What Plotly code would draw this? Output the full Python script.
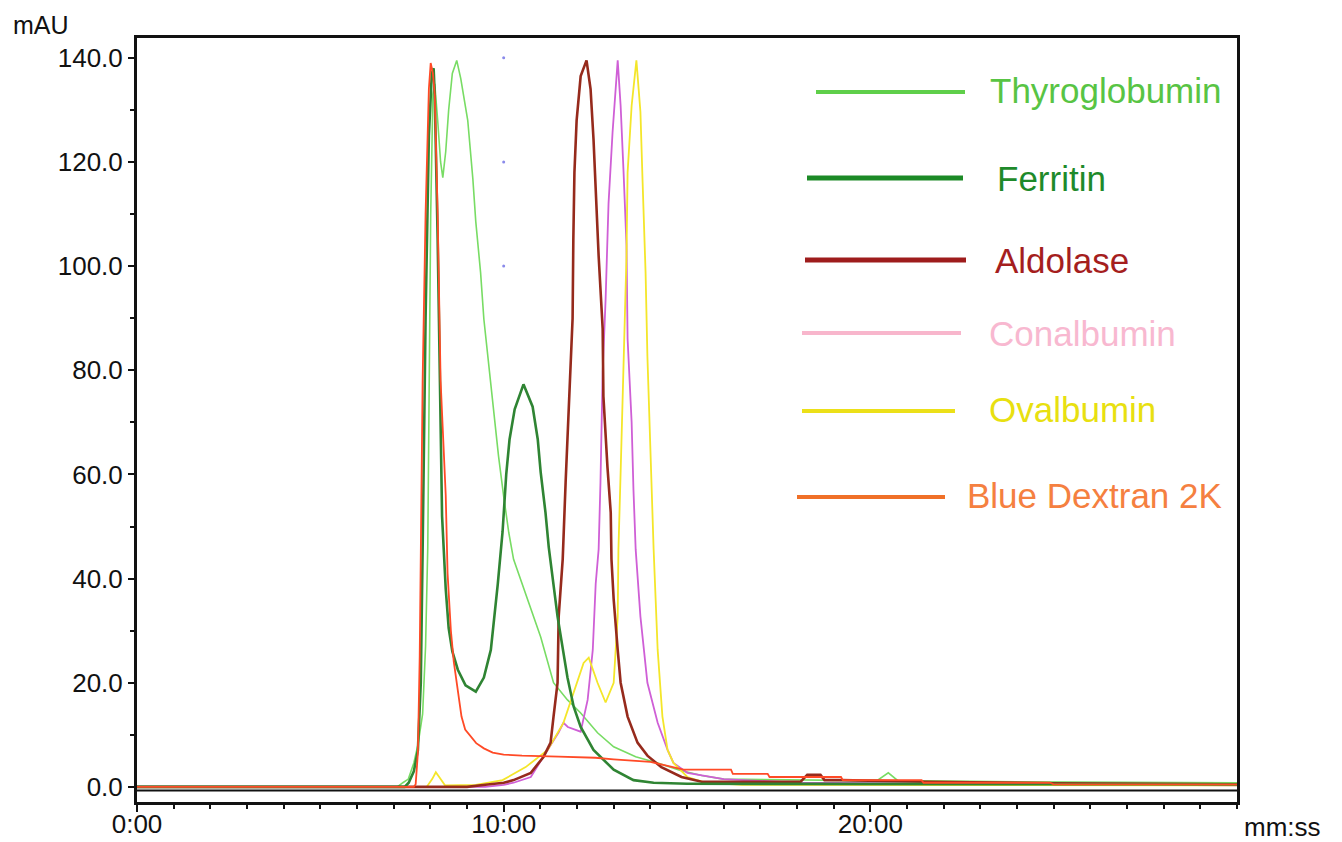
import plotly.graph_objects as go

# ---------------- data (time in minutes, absorbance in mAU) ----------------
names = ["Thyroglobumin", "Ferritin", "Aldolase", "Conalbumin", "Ovalbumin", "Blue Dextran 2K"]

thyro_t = [0, 7.1, 7.25, 7.4, 7.55, 7.66, 7.79, 7.87, 7.93, 7.96, 8.01, 8.07, 8.12, 8.2, 8.28, 8.34,
           8.42, 8.5, 8.6, 8.72, 8.83, 9.02, 9.16, 9.24, 9.37, 9.46, 9.59, 9.73, 9.86, 10.0, 10.14,
           10.27, 10.65, 11.01, 11.36, 11.74, 12.1, 12.56, 13.0, 13.6, 14.2, 14.8, 15.4, 16.0, 19.8,
           20.2, 20.49, 20.75, 24.0, 30.0]
thyro_y = [0, 0, 0.8, 1.5, 4.6, 8, 14, 27, 46, 78, 110, 133, 135, 128, 120, 117,
           122, 130, 137, 139.5, 136, 128, 116.7, 108.5, 98.8, 89.8, 80.8, 72, 63.5, 55.8, 48.8,
           43.7, 36, 28.8, 20, 16.7, 14.2, 10.4, 7.7, 5.8, 4.6, 3.2, 2.2, 1.5, 1.2,
           1.3, 2.7, 1.2, 1.0, 0.8]

ferr_t = [0, 7.3, 7.41, 7.55, 7.66, 7.74, 7.79, 7.87, 7.96, 8.04, 8.09, 8.12, 8.2, 8.26, 8.32, 8.42,
          8.5, 8.6, 8.75, 8.96, 9.24, 9.46, 9.65, 9.84, 9.97, 10.07, 10.16, 10.3, 10.54, 10.79,
          10.93, 11.01, 11.14, 11.23, 11.47, 11.74, 11.91, 12.1, 12.45, 13.0, 13.54, 14.09, 15.0, 30.0]
ferr_y = [0, 0, 0.8, 3, 7, 20, 45.6, 90, 125, 137, 138, 133, 105, 75, 52, 38,
          30.5, 26, 22.5, 19.5, 18.3, 21, 26.3, 39, 49, 60, 66.7, 72.5, 77.3, 73,
          66.7, 60.4, 52.7, 46, 32.7, 21, 15.4, 11.5, 7.1, 3.3, 1.3, 0.8, 0.6, 0.5]

aldo_t = [0, 9.0, 9.5, 10.0, 10.27, 10.74, 11.09, 11.28, 11.36, 11.47, 11.5, 11.61, 11.69, 11.77,
          11.88, 11.9, 11.93, 11.99, 12.1, 12.26, 12.37, 12.45, 12.51, 12.59, 12.7, 12.72, 12.83,
          12.92, 12.94, 13.0, 13.11, 13.19, 13.38, 13.65, 13.92, 14.3, 14.85, 15.4, 18.1, 18.28,
          18.64, 18.75, 19.2, 21.5, 25.0, 30.0]
aldo_y = [0, 0, 0.4, 0.8, 1.3, 2.7, 5.8, 8.5, 13.5, 20, 32.7, 43.7, 58.5, 72,
          90, 105, 118, 128, 136.5, 139.5, 134, 124.4, 113.5, 102, 88, 75, 61.5,
          52.7, 43.7, 36, 26.3, 20, 13.5, 8.5, 6.0, 3.8, 1.9, 1.0, 1.0, 2.3,
          2.3, 1.3, 1.3, 1.0, 0.7, 0.5]

conal_t = [0, 9.5, 10.0, 10.27, 10.74, 11.2, 11.5, 11.63, 11.75, 12.1, 12.29, 12.43, 12.51, 12.59,
           12.64, 12.7, 12.78, 12.86, 12.97, 13.11, 13.19, 13.27, 13.35, 13.38, 13.49, 13.54, 13.6,
           13.73, 13.92, 14.2, 14.47, 14.63, 15.01, 16.0, 18.0, 30.0]
conal_y = [0, 0, 0.4, 0.8, 1.9, 7.1, 10.5, 12.3, 11.5, 10.6, 16.7, 26.3, 39, 45.6,
           58.5, 79.6, 93.6, 112, 125.7, 139.5, 130.8, 118, 104, 86, 70, 57, 45.6,
           32.7, 20, 12.3, 7.1, 4.6, 2.7, 1.5, 0.8, 0.3]

ova_t = [0, 7.9, 8.05, 8.15, 8.28, 8.4, 9.24, 9.97, 10.6, 11.2, 11.63, 11.91, 12.18, 12.32, 12.56,
         12.78, 13.0, 13.11, 13.13, 13.19, 13.27, 13.35, 13.38, 13.49, 13.62, 13.73, 13.79, 13.87,
         13.92, 14.01, 14.09, 14.2, 14.33, 14.47, 14.63, 15.01, 15.5, 16.5, 30.0]
ova_y = [0, 0, 1.5, 2.8, 1.5, 0.3, 0.4, 1.3, 3.8, 7.1, 12.3, 18, 23.8, 24.8, 20,
         16.2, 20, 32.7, 45.6, 60.4, 82.7, 102, 118, 130.8, 139.5, 129.6, 116, 98.8,
         82.7, 61.5, 45.6, 26.3, 13.5, 7.1, 4.6, 1.9, 0.8, 0.4, 0.3]

bd_t = [0, 7.55, 7.6, 7.63, 7.66, 7.71, 7.74, 7.79, 7.87, 7.96, 8.01, 8.07, 8.12, 8.2, 8.28, 8.42,
        8.47, 8.56, 8.64, 8.77, 8.85, 8.95, 9.1, 9.25, 9.46, 9.7, 10.0, 10.5, 11.5, 12.5, 13.0,
        13.5, 14.0, 14.5, 14.9, 16.2, 16.25, 17.2, 17.25, 19.2, 19.25, 21.4, 21.45, 24.9, 25.0, 30.0]
bd_y = [0, 0, 0.5, 3, 6.5, 25, 48, 78, 110, 134, 139, 137, 133, 110, 78, 56,
        41, 30, 24, 17, 13.5, 11, 9.6, 8.4, 7.4, 6.6, 6.2, 6.0, 5.8, 5.6, 5.3,
        5.0, 4.8, 4.0, 3.3, 3.3, 2.5, 2.5, 1.9, 1.9, 1.3, 1.3, 0.8, 0.8, 0.5, 0.5]

# small blue reference dots at 10:00
dot_t = [10, 10, 10]
dot_y = [140, 120, 100]

x_tick_vals = [0, 10, 20]
x_tick_text = ["0:00", "10:00", "20:00"]
y_tick_vals = [0, 20, 40, 60, 80, 100, 120, 140]
y_tick_text = ["0.0", "20.0", "40.0", "60.0", "80.0", "100.0", "120.0", "140.0"]

# ---------------- styling ----------------
trace_colors = {
    "Thyroglobumin": "#78dc64",
    "Ferritin": "#2f8433",
    "Aldolase": "#962a1c",
    "Conalbumin": "#cf5fd6",
    "Ovalbumin": "#f4e62a",
    "Blue Dextran 2K": "#ff4a26",
}
trace_widths = {
    "Thyroglobumin": 1.6,
    "Ferritin": 2.6,
    "Aldolase": 2.6,
    "Conalbumin": 1.8,
    "Ovalbumin": 1.8,
    "Blue Dextran 2K": 1.8,
}
legend_line_colors = ["#5fcf4a", "#1c8a26", "#9e1c1c", "#f8b6cc", "#ece018", "#f07028"]
legend_text_colors = ["#58c444", "#1e8a2a", "#a51e1e", "#f8b8d0", "#e8e010", "#f58040"]
legend_line_widths = [4, 5, 5, 4, 4, 4]

FONT = "Liberation Sans, Arial, sans-serif"

series = {
    "Thyroglobumin": (thyro_t, thyro_y),
    "Conalbumin": (conal_t, conal_y),
    "Ovalbumin": (ova_t, ova_y),
    "Aldolase": (aldo_t, aldo_y),
    "Ferritin": (ferr_t, ferr_y),
    "Blue Dextran 2K": (bd_t, bd_y),
}

fig = go.Figure()
for name, (tx, ty) in series.items():
    fig.add_trace(go.Scatter(
        x=tx, y=ty, mode="lines", name=name, showlegend=False,
        line=dict(color=trace_colors[name], width=trace_widths[name]),
    ))

fig.add_trace(go.Scatter(
    x=dot_t, y=dot_y, mode="markers", showlegend=False,
    marker=dict(color="#8a8aea", size=3),
))

# page offset (default body margin) and target plot area in page pixels
OFF = 8
PAGE_W, PAGE_H = 1342, 842
L, R, T, B = 137, 1237, 38, 802
W, H = PAGE_W - OFF, PAGE_H - OFF


def px(xp):
    return (xp - L) / (R - L)


def py(yp):
    return (B - yp) / (B - T)


shapes = []
# black baseline just under zero
shapes.append(dict(type="line", xref="paper", yref="y", x0=0, x1=1, y0=-0.7, y1=-0.7,
                   line=dict(color="#111111", width=2), layer="below"))

annotations = []
legend_rows = [
    # (line x0, line x1, line y, text x, text y) in page pixels
    (816, 965, 92, 988, 90),
    (807, 963, 178, 995, 178),
    (805, 966, 260, 993, 260),
    (802, 961, 333, 987, 333),
    (802, 955, 411, 987, 409),
    (797, 945, 497, 965, 495),
]
for i, (x0, x1, ly, tx, ty) in enumerate(legend_rows):
    shapes.append(dict(type="line", xref="paper", yref="paper",
                       x0=px(x0), x1=px(x1), y0=py(ly), y1=py(ly),
                       line=dict(color=legend_line_colors[i], width=legend_line_widths[i])))
    annotations.append(dict(xref="paper", yref="paper", x=px(tx), y=py(ty),
                            xanchor="left", yanchor="middle", showarrow=False,
                            text=names[i],
                            font=dict(family=FONT, size=35, color=legend_text_colors[i])))

annotations.append(dict(xref="paper", yref="paper", x=px(11), y=py(25),
                        xanchor="left", yanchor="middle", showarrow=False,
                        text="mAU", font=dict(family=FONT, size=25, color="#111111")))
annotations.append(dict(xref="paper", yref="paper", x=px(1242), y=py(827),
                        xanchor="left", yanchor="middle", showarrow=False,
                        text="mm:ss", font=dict(family=FONT, size=26, color="#111111")))

fig.update_layout(
    width=W, height=H,
    margin=dict(l=L - OFF, r=PAGE_W - R, t=T - OFF, b=PAGE_H - B, pad=0, autoexpand=False),
    paper_bgcolor="white", plot_bgcolor="white",
    font=dict(family=FONT, size=26, color="#111111"),
    shapes=shapes, annotations=annotations,
    showlegend=False,
)
fig.update_xaxes(
    range=[0, 30], tickvals=x_tick_vals, ticktext=x_tick_text,
    ticks="outside", ticklen=7, tickwidth=2, tickcolor="#111111",
    minor=dict(dtick=1, tick0=0, ticks="outside", ticklen=4, tickwidth=2, tickcolor="#111111"),
    showline=True, linecolor="#111111", linewidth=3, mirror=True,
    showgrid=False, zeroline=False, automargin=False,
    ticklabelstandoff=-10,
    tickfont=dict(family=FONT, size=26, color="#111111"),
)
fig.update_yaxes(
    range=[-2.9, 143.8], tickvals=y_tick_vals, ticktext=y_tick_text,
    ticks="outside", ticklen=6, tickwidth=2, tickcolor="#111111",
    minor=dict(dtick=10, tick0=0, ticks="outside", ticklen=4, tickwidth=2, tickcolor="#111111"),
    showline=True, linecolor="#111111", linewidth=3, mirror=True,
    showgrid=False, zeroline=False, automargin=False,
    tickfont=dict(family=FONT, size=26, color="#111111"),
)

fig.write_html("out.html")
